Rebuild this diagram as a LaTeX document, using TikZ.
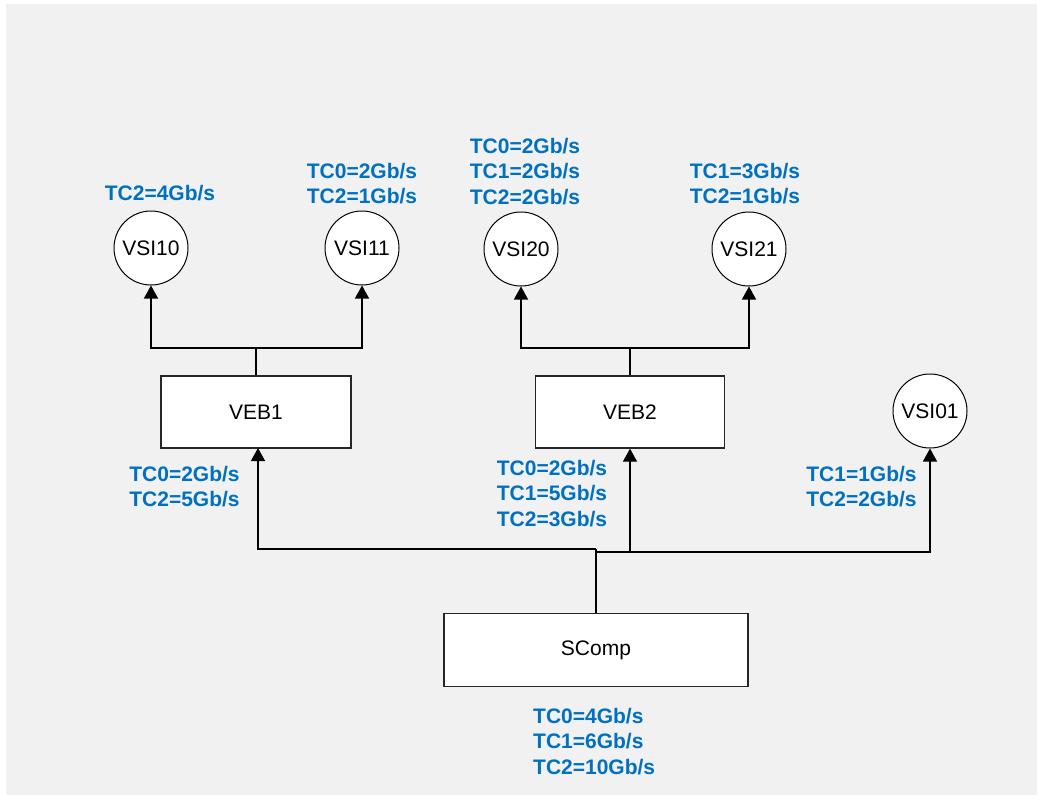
\documentclass[tikz,border=0pt]{standalone}
\usepackage{fontspec}
\setmainfont{Liberation Sans}
\usetikzlibrary{arrows.meta}
\definecolor{bg}{HTML}{F1F1F1}
\definecolor{lblue}{HTML}{0070C0}
\tikzset{
  vsi/.style={circle, draw=black, line width=1pt, fill=white, minimum size=74pt, inner sep=0pt, font=\fontsize{21pt}{25pt}\selectfont},
  veb/.style={rectangle, draw=black!85, line width=1.3pt, fill=white, minimum width=190pt, minimum height=72pt, inner sep=0pt, font=\fontsize{21pt}{25pt}\selectfont},
  lbl/.style={anchor=north, align=center, inner sep=0pt, text=lblue, font=\fontsize{21pt}{25.5pt}\selectfont\bfseries},
  conn/.style={draw=black, line width=1.3pt},
  arr/.style={conn, -{Triangle[length=13pt,width=14pt]}}
}
\begin{document}
\begin{tikzpicture}[x=1pt,y=-1pt]
\useasboundingbox (0,0) rectangle (1037,795);
\fill[bg] (6,4) rectangle (1037,795);
% nodes
\node[vsi] (VSI10) at (151,248) {VSI10};
\node[vsi] (VSI11) at (362,248) {VSI11};
\node[vsi] (VSI20) at (521,249) {VSI20};
\node[vsi] (VSI21) at (749,249) {VSI21};
\node[vsi] (VSI01) at (930,411) {VSI01};
\node[veb] (VEB1) at (256,412) {VEB1};
\node[veb, minimum width=189pt] (VEB2) at (630,412) {VEB2};
\node[veb, minimum width=304pt, minimum height=73pt] (SComp) at (596,650) {SComp};
% junctions
\coordinate (j1) at (256,348);
\coordinate (j2) at (630,348);
\coordinate (jl) at (596,549);
\coordinate (jr) at (596,552);
\coordinate (a1) at (258,448);
% connectors
\draw[conn] (VEB1.north) -- (j1);
\draw[arr] (j1) -| (VSI10.south);
\draw[arr] (j1) -| (VSI11.south);
\draw[conn] (VEB2.north) -- (j2);
\draw[arr] (j2) -| (VSI20.south);
\draw[arr] (j2) -| (VSI21.south);
\draw[conn] (SComp.north) -- (jl);
\draw[arr] (jl) -| (a1);
\draw[arr] (jr) -| (VEB2.south);
\draw[arr] (jr) -| (VSI01.south);
% labels
\node[lbl] (L10) at (160,185) {TC2=4Gb/s};
\node[lbl] (L11) at (362,163) {TC0=2Gb/s\\TC2=1Gb/s};
\node[lbl] (L20) at (525,138) {TC0=2Gb/s\\TC1=2Gb/s\\TC2=2Gb/s};
\node[lbl] (L21) at (745,163) {TC1=3Gb/s\\TC2=1Gb/s};
\node[lbl] (LV1) at (184.5,466) {TC0=2Gb/s\\TC2=5Gb/s};
\node[lbl] (LV2) at (552,460) {TC0=2Gb/s\\TC1=5Gb/s\\TC2=3Gb/s};
\node[lbl] (L01) at (861.5,466) {TC1=1Gb/s\\TC2=2Gb/s};
\node[lbl, anchor=north west, align=left] (LS) at (533,708) {TC0=4Gb/s\\TC1=6Gb/s\\TC2=10Gb/s};
\end{tikzpicture}
\end{document}
